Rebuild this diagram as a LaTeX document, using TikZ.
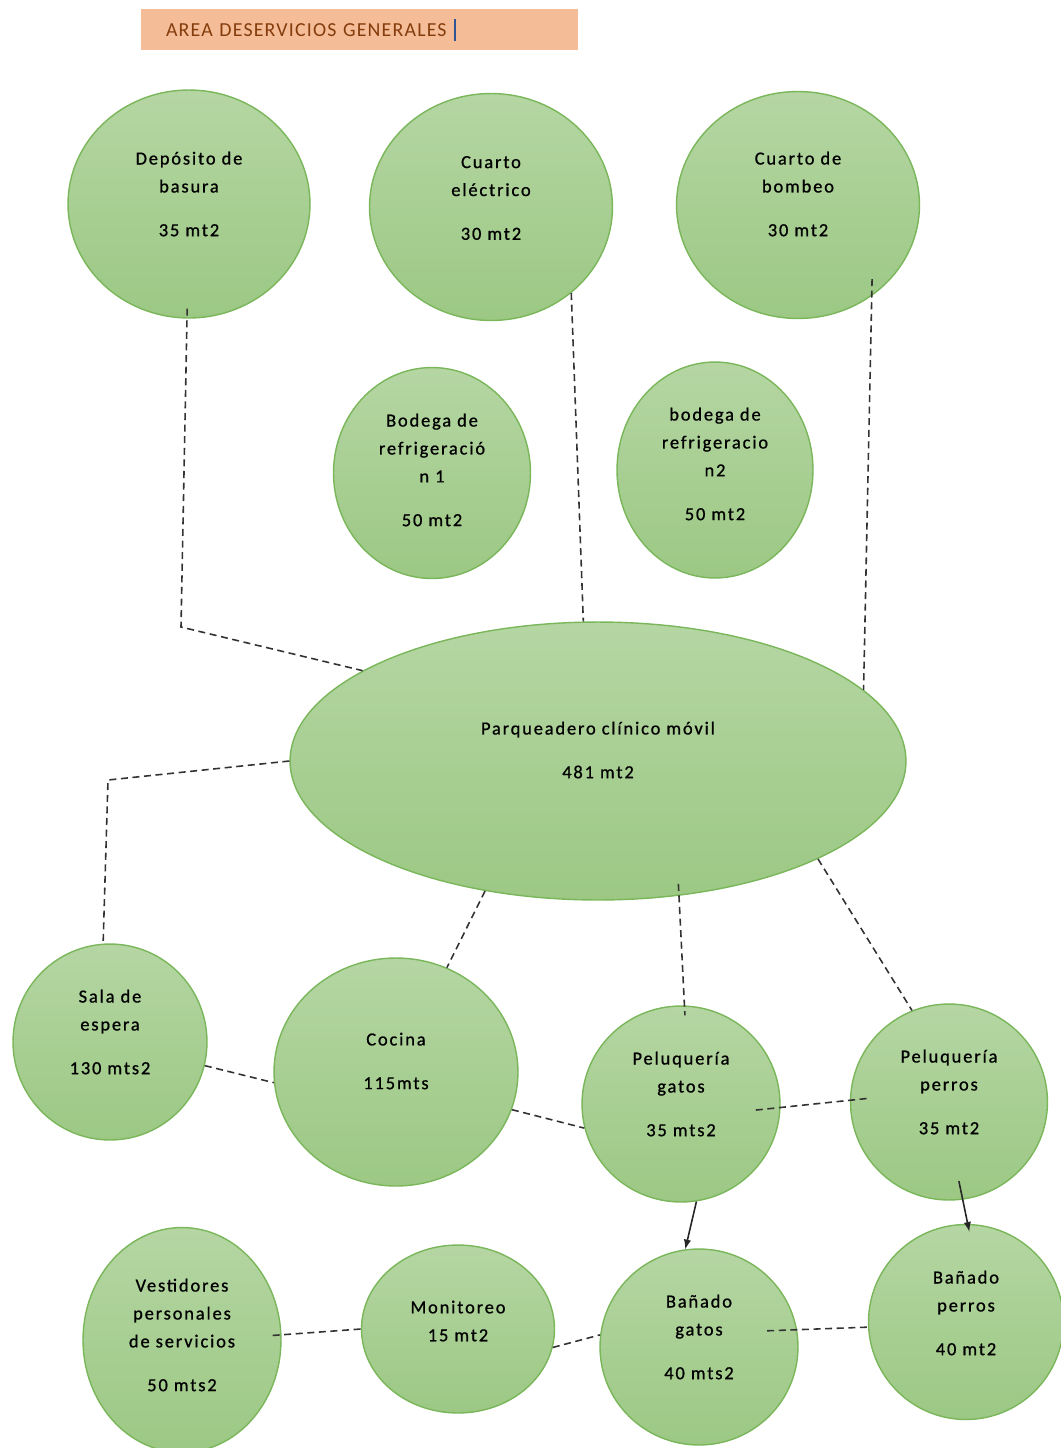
\documentclass[tikz,border=0pt]{standalone}
\usepackage{fontspec}
\setmainfont{Carlito}[LetterSpace=6]
\newfontfamily\rotfont{Carlito}[LetterSpace=10, FakeBold=0.8]
\usepackage{xcolor}
\usepackage{tikz}
\usetikzlibrary{shapes, arrows, positioning, calc}

\definecolor{verdeclaro}{RGB}{181,214,163}
\definecolor{verdeoscuro}{RGB}{156,200,132}
\definecolor{bordeverde}{RGB}{122,182,90}
\definecolor{salmon}{RGB}{245,189,151}
\definecolor{cafe}{RGB}{132,60,12}
\definecolor{cursor}{RGB}{47,85,151}
\definecolor{trazo}{RGB}{50,50,50}

\begin{document}
\begin{tikzpicture}[x=0.02cm, y=-0.02cm,
    zona/.style={ellipse, draw=bordeverde, line width=0.8pt, top color=verdeclaro, bottom color=verdeoscuro, inner sep=0pt},
    rotulo/.style={align=center, font=\rotfont\fontsize{10.5}{15.9}\selectfont, text=black},
    titulo/.style={rectangle, fill=salmon, minimum width=8.74cm, minimum height=0.82cm, text width=7.74cm, inner xsep=0.5cm, align=left, text=cafe, font=\fontsize{11.3}{13}\selectfont},
    enlace/.style={draw=trazo, line width=0.9pt, dash pattern=on 4pt off 2.6pt},
    flecha/.style={draw=black!85, line width=0.9pt, -latex}]
    \useasboundingbox (0,0) rectangle (1061,1448);

    \node[titulo] (titulo) at (359.5,29.5) {AREA DESERVICIOS GENERALES\hspace{0.15cm}\textcolor{cursor}{\rule[-0.08cm]{0.04cm}{0.44cm}}};

    \node[zona, minimum width=4.84cm, minimum height=4.56cm, label={[rotulo, yshift=0.2cm]center:Depósito de\\basura\\[9pt]35 mt2}] (deposito) at (189,204) {};
    \node[zona, minimum width=4.86cm, minimum height=4.54cm, label={[rotulo, yshift=0.18cm]center:Cuarto\\eléctrico\\[9pt]30 mt2}] (electrico) at (491,207) {};
    \node[zona, minimum width=4.86cm, minimum height=4.54cm, label={[rotulo, yshift=0.22cm]center:Cuarto de\\bombeo\\[9pt]30 mt2}] (bombeo) at (798,205) {};

    \node[zona, minimum width=3.94cm, minimum height=4.22cm, label={[rotulo, yshift=0.06cm]center:Bodega de\\refrigeració\\n 1\\[9pt]50 mt2}] (bodega1) at (432,473) {};
    \node[zona, minimum width=3.92cm, minimum height=4.32cm, label={[rotulo, yshift=0.12cm]center:bodega de\\refrigeracio\\n2\\[9pt]50 mt2}] (bodega2) at (715,470) {};

    \node[zona, minimum width=12.32cm, minimum height=5.56cm, label={[rotulo, yshift=0.22cm]center:Parqueadero clínico móvil\\[9pt]481 mt2}] (parq) at (598,761) {};

    \node[zona, minimum width=3.88cm, minimum height=3.92cm, label={[rotulo, yshift=0.2cm]center:Sala de\\espera\\[9pt]130 mts2}] (sala) at (110,1042) {};
    \node[zona, minimum width=4.88cm, minimum height=4.56cm, label={[rotulo, yshift=0.22cm]center:Cocina\\[9pt]115mts}] (cocina) at (396,1072) {};
    \node[zona, minimum width=3.96cm, minimum height=3.92cm, label={[rotulo, yshift=0.2cm]center:Peluquería\\gatos\\[9pt]35 mts2}] (pgatos) at (681,1104) {};
    \node[zona, minimum width=3.94cm, minimum height=3.92cm, label={[rotulo, yshift=0.2cm]center:Peluquería\\perros\\[9pt]35 mt2}] (pperros) at (949,1102) {};

    \node[zona, minimum width=3.96cm, minimum height=4.5cm, label={[rotulo, yshift=0.1cm]center:Vestidores\\personales\\de servicios\\[9pt]50 mts2}] (vestidores) at (182,1340) {};
    \node[zona, minimum width=3.86cm, minimum height=3.36cm, label={[rotulo, yshift=0.16cm]center:Monitoreo\\15 mt2}] (monitoreo) at (458,1329) {};
    \node[zona, minimum width=3.96cm, minimum height=3.92cm, label={[rotulo, yshift=0.2cm]center:Bañado\\gatos\\[9pt]40 mts2}] (bgatos) at (699,1347) {};
    \node[zona, minimum width=3.9cm, minimum height=3.9cm, label={[rotulo, yshift=0.18cm]center:Bañado\\perros\\[9pt]40 mt2}] (bperros) at (966,1322) {};

    \coordinate (codo1) at (181,627);
    \coordinate (codo2) at (108,780);

    \draw[enlace, shorten <=-0.2cm] (deposito.-91) -- (codo1) -- (parq.159);
    \draw[enlace] (electrico.-47) -- (parq.96);
    \draw[enlace, shorten <=-0.34cm] (bombeo.-51) -- (parq.15);
    \draw[enlace] (parq.west) -- (codo2) -- (sala.94);
    \draw[enlace] (parq.-131) -- (cocina.64);
    \draw[enlace, shorten <=-0.24cm, shorten >=-0.2cm] (parq.-59) -- (pgatos.88);
    \draw[enlace] (parq.-24) -- (pperros.112);
    \draw[enlace] (sala.-14) -- (cocina.185);
    \draw[enlace] (cocina.-18) -- (pgatos.194);
    \draw[enlace, shorten <=-0.5cm, shorten >=-0.34cm] (pgatos.-2) -- (pperros.179);
    \draw[enlace, shorten <=-0.18cm] (vestidores.3) -- (monitoreo.180);
    \draw[enlace] (monitoreo.-11) -- (bgatos.173);
    \draw[enlace, shorten <=-0.6cm] (bgatos.10) -- (bperros.183);

    \draw[flecha] (pgatos.-81) -- (bgatos.98);
    \draw[flecha, shorten <=-0.38cm, shorten >=-0.16cm] (pperros.-82) -- (bperros.89);
\end{tikzpicture}
\end{document}
